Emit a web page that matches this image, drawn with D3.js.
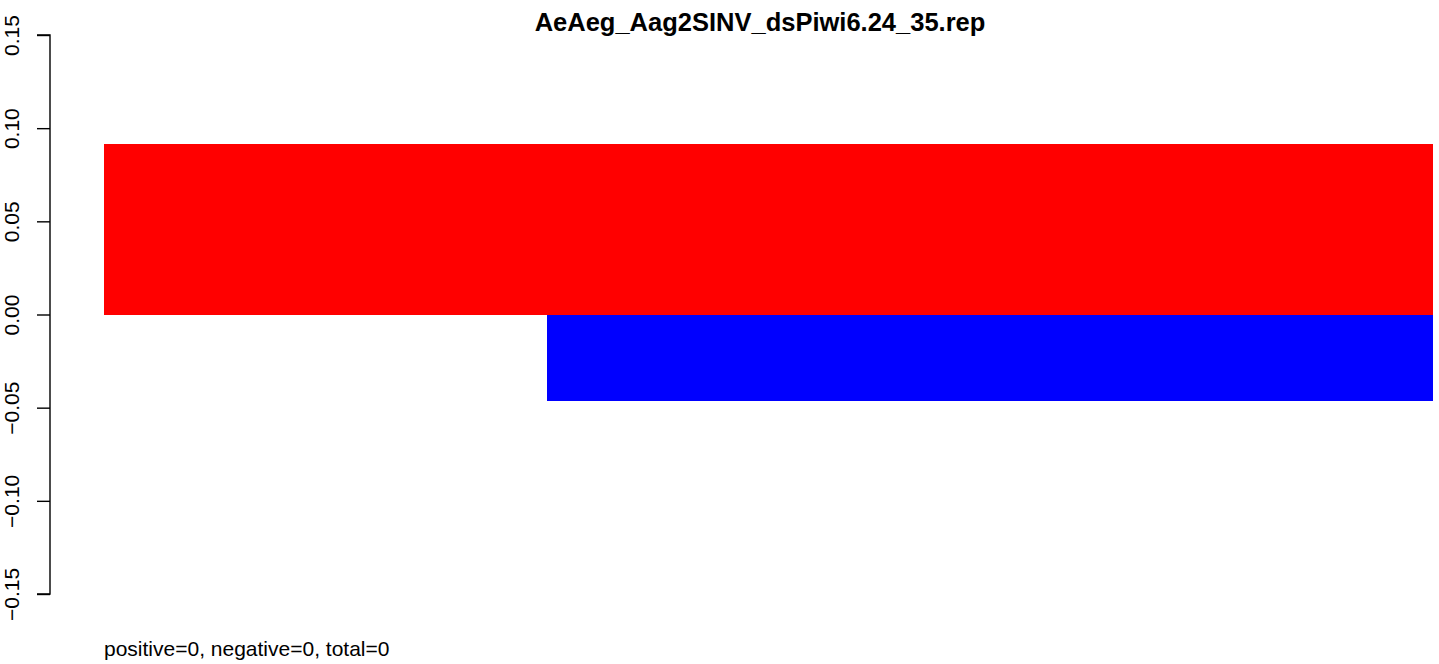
<!DOCTYPE html>
<html>
<head>
<meta charset="utf-8">
<script src="https://cdn.jsdelivr.net/npm/d3@7"></script>
<style>
  html, body { margin: 0; padding: 0; background: #fff; }
  svg { display: block; font-family: "Liberation Sans", Arial, Helvetica, sans-serif; }
</style>
</head>
<body>
<svg id="chart" width="1439" height="664"></svg>
<script>
const titleText = "AeAeg_Aag2SINV_dsPiwi6.24_35.rep";
const footerText = "positive=0, negative=0, total=0";
const sizes = [24, 25, 26, 27, 28, 29, 30, 31, 32, 33, 34, 35];
const positiveValues = [0.0916, 0.0916, 0.0916, 0.0916, 0.0916, 0.0916, 0.0916, 0.0916, 0.0916, 0.0916, 0.0916, 0.0916];
const negativeValues = [0, 0, 0, 0, -0.0462, -0.0462, -0.0462, -0.0462, -0.0462, -0.0462, -0.0462, -0.0462];
const yTicks = [-0.15, -0.10, -0.05, 0.00, 0.05, 0.10, 0.15];

const svg = d3.select("#chart");

const x = d3.scaleBand().domain(sizes).range([104, 1432]).padding(0);
const y = d3.scaleLinear().domain([-0.15, 0.15]).range([594, 35]);

// positive bars
svg.append("g").selectAll("rect")
  .data(sizes.map((s, i) => ({ s, v: positiveValues[i] })))
  .join("rect")
  .attr("x", d => x(d.s))
  .attr("width", x.bandwidth() + 0.5)
  .attr("y", d => y(Math.max(0, d.v)))
  .attr("height", d => Math.abs(y(d.v) - y(0)))
  .attr("fill", "#ff0000")
  .attr("shape-rendering", "crispEdges");

// negative bars
svg.append("g").selectAll("rect")
  .data(sizes.map((s, i) => ({ s, v: negativeValues[i] })).filter(d => d.v !== 0))
  .join("rect")
  .attr("x", d => x(d.s))
  .attr("width", x.bandwidth() + 0.5)
  .attr("y", d => y(0))
  .attr("height", d => Math.abs(y(d.v) - y(0)))
  .attr("fill", "#0000ff")
  .attr("shape-rendering", "crispEdges");

// y axis (R style)
const yAxis = d3.axisLeft(y).tickValues(yTicks).tickSize(13).tickPadding(0).tickFormat(d3.format(".2f"));
const ag = svg.append("g").attr("transform", "translate(50,0)").call(yAxis);
ag.select(".domain").attr("d", `M-13,${y(0.15)}H0V${y(-0.15)}H-13`).attr("stroke", "#000").attr("stroke-width", 1.4).attr("fill", "none");
ag.selectAll(".tick line").attr("stroke", "#000").attr("stroke-width", 1.4);
ag.selectAll(".tick text")
  .text(d => d3.format(".2f")(d).replace("-", "\u2212"))
  .attr("x", 0).attr("dy", null)
  .attr("transform", "translate(-31.5,0) rotate(-90)")
  .attr("text-anchor", "middle")
  .attr("dominant-baseline", "auto")
  .attr("fill", "#000")
  .style("font-size", "21px")
  .style("font-family", "'Liberation Sans', Arial, sans-serif");

// title
svg.append("text")
  .attr("x", 760).attr("y", 31)
  .attr("text-anchor", "middle")
  .style("font-weight", "bold")
  .style("font-size", "25.5px")
  .text(titleText);

// footer
svg.append("text")
  .attr("x", 104).attr("y", 656)
  .style("font-size", "21px")
  .text(footerText);
</script>
</body>
</html>
